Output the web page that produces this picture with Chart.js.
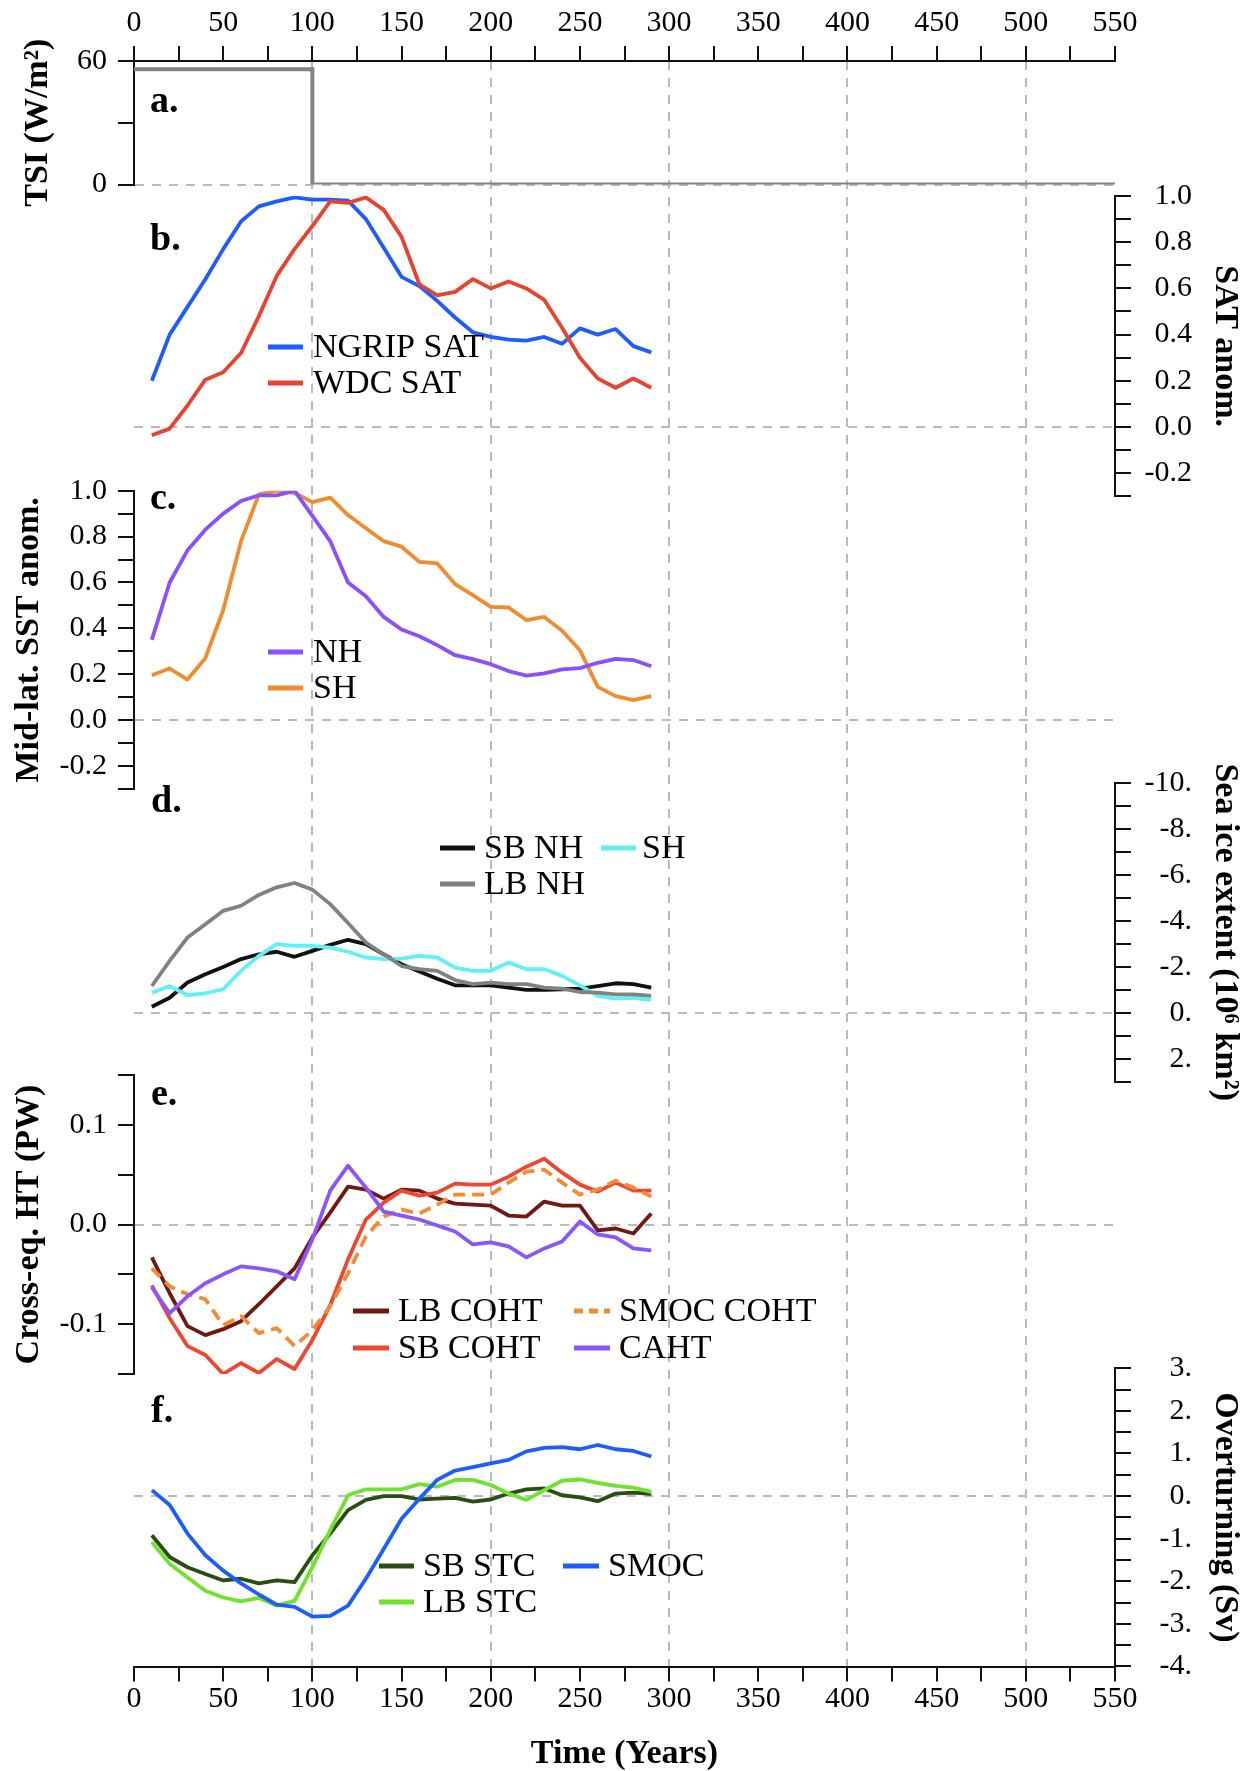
<!DOCTYPE html>
<html>
<head>
<meta charset="utf-8">
<title>Forcing and response time series</title>
<script src="https://cdn.jsdelivr.net/npm/chart.js@4.4.1/dist/chart.umd.min.js"></script>
<style>
  html, body { margin: 0; padding: 0; background: #ffffff; }
  #wrap { width: 1255px; height: 1771px; }
</style>
</head>
<body>
<div id="wrap"><canvas id="fig" width="1255" height="1771"></canvas></div>
<script>
// ---- data ---------------------------------------------------------------
const years = [10, 20, 30, 40, 50, 60, 70, 80, 90, 100, 110, 120, 130, 140, 150,
               160, 170, 180, 190, 200, 210, 220, 230, 240, 250, 260, 270, 280, 290];

// a. forcing
const tsiYears  = [0, 100, 100, 550];
const tsiValues = [56, 56, 0, 0];

// b. surface air temperature anomaly (normalised)
const ngripSat = [0.20, 0.40, 0.52, 0.64, 0.77, 0.89, 0.955, 0.977, 0.994, 0.984, 0.984, 0.98, 0.90, 0.776, 0.65,
                  0.61, 0.546, 0.474, 0.41, 0.39, 0.378, 0.374, 0.39, 0.36, 0.427, 0.40, 0.424, 0.35, 0.323];
const wdcSat   = [-0.036, -0.007, 0.093, 0.205, 0.237, 0.32, 0.48, 0.654, 0.77, 0.87, 0.977, 0.97, 0.994, 0.94, 0.823,
                  0.618, 0.57, 0.585, 0.64, 0.60, 0.63, 0.60, 0.55, 0.43, 0.30, 0.21, 0.17, 0.21, 0.17];

// c. mid-latitude SST anomaly (normalised)
const sstNH = [0.35, 0.60, 0.74, 0.83, 0.90, 0.955, 0.98, 0.98, 1.0, 0.89, 0.78, 0.60, 0.54, 0.45, 0.395,
               0.366, 0.327, 0.283, 0.266, 0.244, 0.214, 0.194, 0.204, 0.221, 0.227, 0.25, 0.267, 0.262, 0.235];
const sstSH = [0.196, 0.225, 0.177, 0.27, 0.48, 0.78, 0.984, 1.0, 0.99, 0.95, 0.97, 0.894, 0.836, 0.78, 0.756,
               0.69, 0.683, 0.593, 0.545, 0.494, 0.491, 0.436, 0.45, 0.39, 0.305, 0.145, 0.105, 0.087, 0.105];

// d. sea ice extent anomaly (10^6 km^2)
const iceSbNH = [-0.26, -0.65, -1.31, -1.67, -1.99, -2.33, -2.54, -2.65, -2.43, -2.69, -2.95, -3.17, -2.98, -2.54, -2.11,
                 -1.79, -1.48, -1.19, -1.19, -1.19, -1.09, -0.99, -0.99, -1.02, -1.05, -1.16, -1.28, -1.24, -1.09];
const iceLbNH = [-1.16, -2.25, -3.27, -3.85, -4.43, -4.65, -5.12, -5.45, -5.64, -5.35, -4.72, -3.90, -3.05, -2.54, -2.03,
                 -1.89, -1.82, -1.42, -1.24, -1.31, -1.24, -1.24, -1.09, -1.05, -0.90, -0.87, -0.80, -0.80, -0.73];
const iceSH   = [-0.87, -1.16, -0.76, -0.84, -1.02, -1.82, -2.47, -2.98, -2.91, -2.91, -2.83, -2.65, -2.40, -2.33, -2.35,
                 -2.47, -2.40, -1.96, -1.82, -1.82, -2.18, -1.89, -1.89, -1.60, -1.19, -0.73, -0.61, -0.65, -0.55];

// e. cross-equatorial heat transport (PW)
const htLbCoht   = [-0.033, -0.069, -0.102, -0.111, -0.105, -0.097, -0.080, -0.062, -0.044, -0.013, 0.012, 0.038, 0.035, 0.026, 0.035,
                    0.034, 0.026, 0.021, 0.020, 0.019, 0.009, 0.008, 0.023, 0.019, 0.019, -0.006, -0.004, -0.009, 0.011];
const htSbCoht   = [-0.061, -0.094, -0.122, -0.131, -0.150, -0.139, -0.149, -0.135, -0.145, -0.116, -0.081, -0.035, 0.005, 0.022, 0.034,
                    0.029, 0.032, 0.041, 0.040, 0.040, 0.048, 0.058, 0.066, 0.052, 0.040, 0.033, 0.042, 0.034, 0.034];
const htSmocCoht = [-0.044, -0.062, -0.070, -0.075, -0.101, -0.092, -0.109, -0.104, -0.122, -0.106, -0.082, -0.049, -0.012, 0.008, 0.015,
                    0.011, 0.020, 0.030, 0.030, 0.030, 0.042, 0.053, 0.055, 0.042, 0.030, 0.035, 0.044, 0.037, 0.028];
const htCaht     = [-0.063, -0.089, -0.072, -0.059, -0.050, -0.042, -0.044, -0.047, -0.055, -0.015, 0.034, 0.059, 0.037, 0.013, 0.009,
                    0.005, -0.001, -0.007, -0.020, -0.018, -0.022, -0.033, -0.024, -0.017, 0.003, -0.010, -0.013, -0.024, -0.026];

// f. overturning (Sv)
const stcSb = [-0.92, -1.43, -1.67, -1.83, -1.98, -1.94, -2.05, -1.98, -2.02, -1.39, -0.88, -0.33, -0.09, 0.00, 0.00,
               -0.08, -0.06, -0.04, -0.13, -0.08, 0.06, 0.16, 0.18, 0.02, -0.03, -0.12, 0.06, 0.08, 0.05];
const stcLb = [-1.08, -1.59, -1.91, -2.22, -2.38, -2.47, -2.39, -2.57, -2.46, -1.67, -0.80, 0.02, 0.16, 0.16, 0.16,
               0.28, 0.22, 0.38, 0.38, 0.26, 0.06, -0.09, 0.14, 0.36, 0.39, 0.31, 0.24, 0.20, 0.10];
const smoc  = [0.14, -0.21, -0.88, -1.39, -1.75, -2.05, -2.31, -2.55, -2.60, -2.83, -2.81, -2.57, -1.94, -1.24, -0.53,
               -0.06, 0.38, 0.60, 0.68, 0.77, 0.85, 1.05, 1.13, 1.15, 1.10, 1.20, 1.10, 1.06, 0.93];

// tick values
const timeTicks = [0, 25, 50, 75, 100, 125, 150, 175, 200, 225, 250, 275, 300, 325, 350, 375, 400, 425, 450, 475, 500, 525, 550];
const tsiTicks  = [0, 30, 60];
const anomTicks = [-0.3, -0.2, -0.1, 0, 0.1, 0.2, 0.3, 0.4, 0.5, 0.6, 0.7, 0.8, 0.9, 1.0];
const iceTicks  = [-10, -9, -8, -7, -6, -5, -4, -3, -2, -1, 0, 1, 2, 3];
const htTicks   = [-0.15, -0.1, -0.05, 0, 0.05, 0.1, 0.15];
const ovtTicks  = [-4, -3.5, -3, -2.5, -2, -1.5, -1, -0.5, 0, 0.5, 1, 1.5, 2, 2.5, 3];

// ---- layout (canvas pixels) ---------------------------------------------
const W = 1255, H = 1771;
const AREA_TOP = 61, AREA_BOTTOM = 1666.5, AREA_LEFT = 134, AREA_RIGHT = 1115;
const RIGHT_EDGE = 1192;                 // right-aligned tick labels of b, d, f end here
const LEFT_W = AREA_LEFT, RIGHT_W = RIGHT_EDGE - AREA_RIGHT;
const RIGHT_TITLE_X = 1225;              // centre of the rotated right-hand titles

const FONT = '"Liberation Serif", "DejaVu Serif", "Times New Roman", serif';
const INK = '#111111';
const GRID = '#bababa';
const DASH = [9, 8];
const CLEAR = 'rgba(0,0,0,0)';
const TITLE_FONT = { size: 34, weight: 'bold', lineHeight: 1 };

Chart.defaults.font.family = FONT;
Chart.defaults.color = '#000000';

const pts = (xs, ys) => xs.map((x, i) => ({ x: x, y: ys[i] }));

// one y axis per panel, stacked along the left or right edge
function panelAxis(cfg) {
  const left = cfg.side === 'left';
  const titlePad = left ? cfg.titlePad : (RIGHT_EDGE - RIGHT_TITLE_X) - TITLE_FONT.size / 2;
  return {
    type: 'linear',
    position: cfg.side,
    stack: left ? 'L' : 'R',
    stackWeight: cfg.span,
    weight: cfg.order,
    min: cfg.min,
    max: cfg.max,
    reverse: !!cfg.reverse,
    afterBuildTicks: s => { s.ticks = cfg.ticks.map(v => ({ value: v })); },
    afterFit: s => { s.width = left ? LEFT_W : RIGHT_W; },
    ticks: {
      callback: cfg.label,
      autoSkip: false,
      font: { size: 30 },
      color: '#000',
      padding: 11,
      crossAlign: left ? 'near' : 'far'
    },
    grid: {
      drawOnChartArea: true,
      color: c => (c.tick && c.tick.value === 0) ? GRID : CLEAR,
      lineWidth: 2,
      tickColor: INK,
      tickLength: 16,
      tickWidth: 2
    },
    border: { display: true, color: INK, width: 2, dash: DASH },
    title: {
      display: true,
      text: cfg.title,
      color: '#000',
      font: TITLE_FONT,
      padding: { top: titlePad, bottom: 0 }
    }
  };
}

// empty spacer used to leave gaps between stacked panel axes
function spacer(side, span, order) {
  return {
    type: 'linear',
    position: side,
    stack: side === 'left' ? 'L' : 'R',
    stackWeight: span,
    weight: order,
    min: 0, max: 1,
    afterFit: s => { s.width = side === 'left' ? LEFT_W : RIGHT_W; },
    ticks: { display: false },
    grid: { display: false },
    border: { display: false },
    title: { display: false }
  };
}

const oneDec = v => (Math.abs(Math.round(v * 10) % 2) === 0 ? v.toFixed(1) : '');
const timeLabel = v => (v % 50 === 0 ? String(v) : '');

function timeAxis(pos) {
  const bottom = pos === 'bottom';
  return {
    type: 'linear',
    position: pos,
    min: 0, max: 550,
    afterBuildTicks: s => { s.ticks = timeTicks.map(v => ({ value: v })); },
    afterFit: s => { s.height = bottom ? H - AREA_BOTTOM : AREA_TOP; },
    ticks: { callback: timeLabel, autoSkip: false, maxRotation: 0, font: { size: 30 }, color: '#000', padding: bottom ? 0 : 5 },
    grid: {
      drawOnChartArea: bottom,
      color: c => (c.tick && c.tick.value % 100 === 0 && c.tick.value > 0 && c.tick.value < 550) ? GRID : CLEAR,
      lineWidth: 2,
      tickColor: INK,
      tickLength: 15,
      tickWidth: 2
    },
    border: { display: true, color: INK, width: 2, dash: DASH },
    title: bottom
      ? { display: true, text: 'Time (Years)', color: '#000', font: TITLE_FONT, padding: { top: 0, bottom: 0 } }
      : { display: false }
  };
}

function series(label, axis, ys, color, extra) {
  return Object.assign({
    label: label,
    yAxisID: axis,
    xAxisID: 'x',
    data: pts(years, ys),
    borderColor: color,
    backgroundColor: color,
    borderWidth: 3.8,
    borderJoinStyle: 'round',
    pointRadius: 0,
    tension: 0,
    fill: false
  }, extra || {});
}

const datasets = [
  Object.assign(series('TSI', 'yA', [], '#838383'), { data: pts(tsiYears, tsiValues), borderWidth: 4, borderJoinStyle: 'miter' }),
  series('WDC SAT', 'yB', wdcSat, '#e8432e'),
  series('NGRIP SAT', 'yB', ngripSat, '#1d5cff'),
  series('NH', 'yC', sstNH, '#8a50ff'),
  series('SH', 'yC', sstSH, '#f08b2f'),
  series('LB NH', 'yD', iceLbNH, '#818181'),
  series('SH', 'yD', iceSH, '#62f0f7'),
  series('SB NH', 'yD', iceSbNH, '#111111'),
  series('CAHT', 'yE', htCaht, '#8a55ff'),
  series('SMOC COHT', 'yE', htSmocCoht, '#f28b31', { borderDash: [12, 7] }),
  series('SB COHT', 'yE', htSbCoht, '#ee4630'),
  series('LB COHT', 'yE', htLbCoht, '#6f1911'),
  series('SMOC', 'yF', smoc, '#1d5cff'),
  series('LB STC', 'yF', stcLb, '#6ee22c'),
  series('SB STC', 'yF', stcSb, '#294d12')
];

// where each panel's key is written: [line start, line end, text x, middle y]
const keySpots = {
  'yB:NGRIP SAT': [268, 303, 313, 347],
  'yB:WDC SAT':   [268, 303, 313, 383],
  'yC:NH':        [268, 303, 313, 652],
  'yC:SH':        [268, 303, 313, 688],
  'yD:SB NH':     [440, 475, 484, 848],
  'yD:SH':        [601, 636, 642, 848],
  'yD:LB NH':     [440, 475, 484, 884],
  'yE:LB COHT':   [353, 389, 398, 1311],
  'yE:SMOC COHT': [574, 610, 619, 1311],
  'yE:SB COHT':   [353, 389, 398, 1348],
  'yE:CAHT':      [574, 610, 619, 1348],
  'yF:SB STC':    [379, 414, 423, 1566],
  'yF:SMOC':      [563, 599, 608, 1566],
  'yF:LB STC':    [379, 414, 423, 1602]
};

const panelTags = [
  { t: 'a.', x: 150, y: 102 },
  { t: 'b.', x: 150, y: 240 },
  { t: 'c.', x: 150, y: 499 },
  { t: 'd.', x: 151, y: 802 },
  { t: 'e.', x: 151, y: 1095 },
  { t: 'f.', x: 151, y: 1412 }
];

const panelKeys = {
  id: 'panelKeys',
  afterDraw(chart) {
    const ctx = chart.ctx;
    ctx.save();
    ctx.textBaseline = 'middle';
    ctx.textAlign = 'left';
    ctx.fillStyle = '#000';
    ctx.font = '34px ' + FONT;
    chart.data.datasets.forEach(ds => {
      const spot = keySpots[ds.yAxisID + ':' + ds.label];
      if (!spot) return;
      ctx.save();
      ctx.strokeStyle = ds.borderColor;
      ctx.lineWidth = 5;
      ctx.setLineDash(ds.borderDash ? [9, 6] : []);
      ctx.beginPath();
      ctx.moveTo(spot[0], spot[3]);
      ctx.lineTo(spot[1], spot[3]);
      ctx.stroke();
      ctx.restore();
      ctx.fillText(ds.label, spot[2], spot[3] + 1);
    });
    ctx.font = 'bold 38px ' + FONT;
    panelTags.forEach(p => ctx.fillText(p.t, p.x, p.y));
    ctx.restore();
  }
};

new Chart(document.getElementById('fig'), {
  type: 'line',
  data: { datasets: datasets },
  plugins: [panelKeys],
  options: {
    responsive: false,
    animation: false,
    events: [],
    layout: { padding: { left: 0, top: 0, bottom: 0, right: W - RIGHT_EDGE } },
    plugins: { legend: { display: false }, tooltip: { enabled: false } },
    scales: {
      x: timeAxis('bottom'),
      xTop: timeAxis('top'),
      // left column: a, c, e
      yA: panelAxis({ side: 'left', order: 6, span: 123.5, min: 0, max: 60, ticks: tsiTicks,
                      label: v => (v === 30 ? '' : String(v)), title: 'TSI (W/m²)', titlePad: 21 }),
      gapL1: spacer('left', 306.2, 5),
      yC: panelAxis({ side: 'left', order: 4, span: 298.3, min: -0.3, max: 1.0, ticks: anomTicks,
                      label: oneDec, title: 'Mid-lat. SST anom.', titlePad: 12 }),
      gapL2: spacer('left', 286, 3),
      yE: panelAxis({ side: 'left', order: 2, span: 299, min: -0.15, max: 0.15, ticks: htTicks,
                      label: v => (Math.abs(Math.round(v * 100)) % 10 === 0 ? v.toFixed(1) : ''), title: 'Cross-eq. HT (PW)', titlePad: 12 }),
      gapL3: spacer('left', 292.5, 1),
      // right column: b, d, f
      gapR1: spacer('right', 135, 1),
      yB: panelAxis({ side: 'right', order: 2, span: 300.3, min: -0.3, max: 1.0, ticks: anomTicks,
                      label: oneDec, title: 'SAT anom.' }),
      gapR2: spacer('right', 286.4, 3),
      yD: panelAxis({ side: 'right', order: 4, span: 299, min: -10, max: 3, reverse: true, ticks: iceTicks,
                      label: v => (v % 2 === 0 ? v + '.' : ''), title: 'Sea ice extent (10⁶ km²)' }),
      gapR3: spacer('right', 286.6, 5),
      yF: panelAxis({ side: 'right', order: 6, span: 298.2, min: -4, max: 3, ticks: ovtTicks,
                      label: v => (Number.isInteger(v) ? v + '.' : ''), title: 'Overturning (Sv)' })
    }
  }
});
</script>
</body>
</html>
